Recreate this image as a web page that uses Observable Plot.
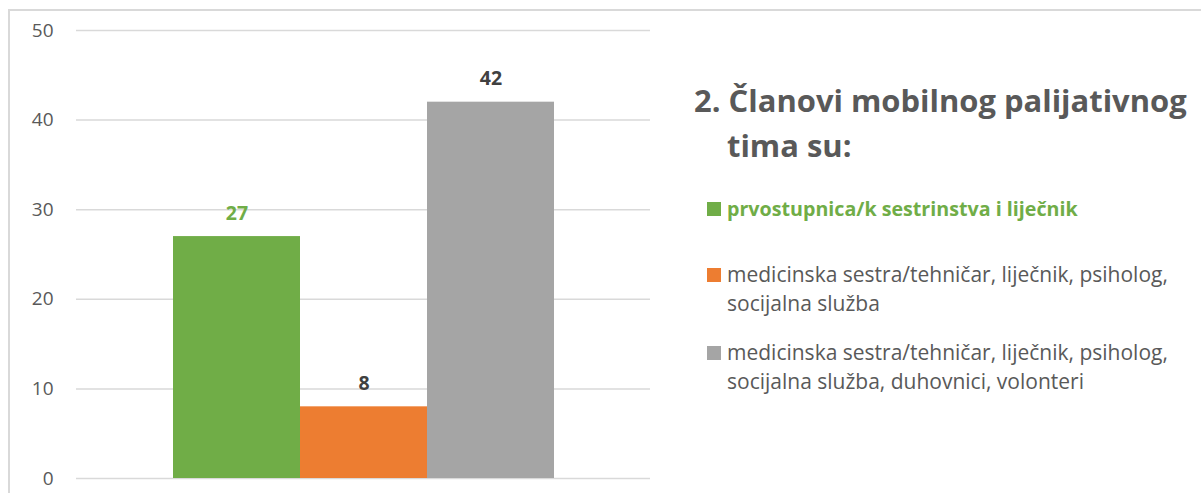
<!DOCTYPE html>
<html><head><meta charset="utf-8">
<script src="https://cdn.jsdelivr.net/npm/d3@7"></script>
<script src="https://cdn.jsdelivr.net/npm/@observablehq/plot@0.6"></script>
<style>
body{margin:0;background:#fff;}
#wrap{position:relative;width:1201px;height:493px;overflow:hidden;font-family:"Open Sans",Lato,sans-serif;}
#frame{position:absolute;left:8px;top:9px;width:1300px;height:600px;border:2px solid #d9d9d9;box-sizing:border-box;}
#chart{position:absolute;left:0;top:0;}
#title{position:absolute;left:694px;top:78px;width:560px;font-family:"Open Sans",sans-serif;font-weight:bold;font-size:31px;line-height:45px;color:#595959;white-space:nowrap;}
#legend{position:absolute;left:707px;top:0;width:0;height:0;}
.item{position:absolute;left:0;width:480px;line-height:29px;color:#595959;white-space:nowrap;}
.sw{position:absolute;left:0;width:14px;height:14px;}
.lab{position:absolute;left:20px;width:470px;}
.meas{position:absolute;visibility:hidden;white-space:nowrap;}
</style>
</head><body>
<div id="wrap"><div id="frame"></div><div id="chart"></div><div id="title"></div><div id="legend"></div></div>
<script>
const series = [
  "prvostupnica/k sestrinstva i liječnik",
  "medicinska sestra/tehničar, liječnik, psiholog, socijalna služba",
  "medicinska sestra/tehničar, liječnik, psiholog, socijalna služba, duhovnici, volonteri"
];
const values = [27, 8, 42];
const colors = ["#70AD47", "#ED7D31", "#A5A5A5"];
const labelColors = ["#70AD47", "#404040", "#404040"];
const yTicks = [0, 10, 20, 30, 40, 50];
const titleText = "2. Članovi mobilnog palijativnog tima su:";

const data = series.map((s, i) => ({series: s, value: values[i]}));

const chart = Plot.plot({
  width: 1201, height: 493,
  marginLeft: 76, marginRight: 551, marginTop: 30, marginBottom: 15,
  style: {fontFamily: "'Open Sans', Lato, sans-serif", background: "transparent"},
  x: {domain: series, paddingInner: 0, paddingOuter: 0.746, axis: null},
  y: {domain: [0, 50], axis: null},
  color: {domain: series, range: colors},
  marks: [
    Plot.ruleY(yTicks, {stroke: "#d9d9d9", strokeWidth: 1.5}),
    Plot.barY(data, {x: "series", y: "value", fill: "series"}),
    ...data.map((d, i) => Plot.text([d], {x: "series", y: "value", text: d => String(d.value), fill: labelColors[i], fontWeight: "bold", fontSize: 19.5, lineAnchor: "bottom", dy: -17})),
    Plot.axisY(yTicks, {tickSize: 0, tickPadding: 23, fontSize: 19, fill: "#595959", label: null})
  ]
});
document.getElementById("chart").appendChild(chart);

const wrap = document.getElementById("wrap");
function measure(text, font, weight, size) {
  const s = document.createElement("span");
  s.className = "meas";
  s.style.fontFamily = font; s.style.fontWeight = weight; s.style.fontSize = size + "px";
  s.textContent = text;
  wrap.appendChild(s);
  const w = s.getBoundingClientRect().width;
  s.remove();
  return w;
}

// title: two lines with a hanging indent, sized to the reference's line width
const tEl = document.getElementById("title");
const tCut = titleText.indexOf(" tima");
const line1 = titleText.slice(0, tCut), line2 = titleText.slice(tCut + 1);
const titleSize = 31 * 493 / measure(line1, "'Open Sans'", "bold", 31);
tEl.style.fontSize = titleSize + "px";
tEl.appendChild(document.createTextNode(line1));
tEl.appendChild(document.createElement("br"));
const l2 = document.createElement("span");
l2.style.paddingLeft = "33px";
l2.textContent = line2;
tEl.appendChild(l2);

// legend text sized so its lines span the reference's widths
const legendSize = 18 * 441 / measure("medicinska sestra/tehničar, liječnik, psiholog,", "'Open Sans'", "normal", 18);
const legendBoldSize = 18 * 351 / measure(series[0], "'Open Sans'", "bold", 18);

const legendTops = [194, 260, 338];
const leg = document.getElementById("legend");
series.forEach((s, i) => {
  const it = document.createElement("div");
  it.className = "item";
  it.style.top = legendTops[i] + "px";
  it.style.fontSize = (i === 0 ? legendBoldSize : legendSize) + "px";
  const sw = document.createElement("div");
  sw.className = "sw";
  sw.style.background = colors[i];
  sw.style.top = "8px";
  const lab = document.createElement("div");
  lab.className = "lab";
  const cut = s.indexOf("psiholog,");
  if (cut >= 0) {
    lab.appendChild(document.createTextNode(s.slice(0, cut + 9)));
    lab.appendChild(document.createElement("br"));
    lab.appendChild(document.createTextNode(s.slice(cut + 10)));
  } else {
    lab.textContent = s;
  }
  if (i === 0) { lab.style.color = colors[0]; lab.style.fontWeight = "bold"; }
  it.appendChild(sw); it.appendChild(lab);
  leg.appendChild(it);
});
</script>
</body></html>
